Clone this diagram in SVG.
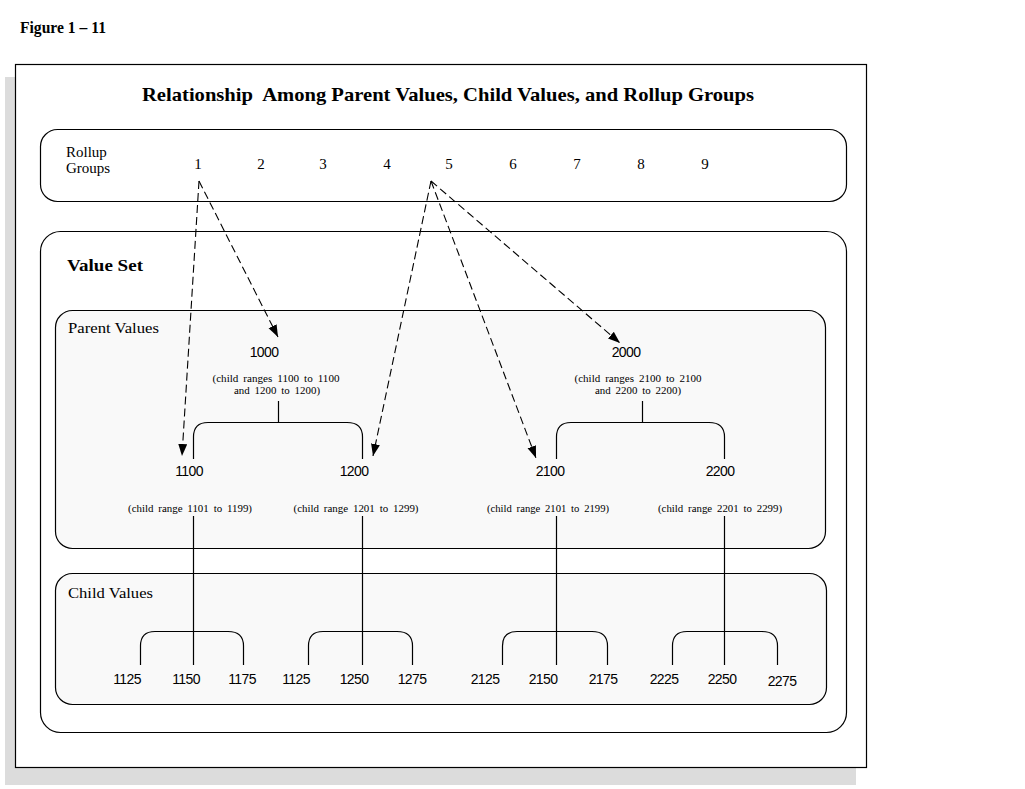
<svg xmlns="http://www.w3.org/2000/svg" width="1025" height="789" viewBox="0 0 1025 789">
<style>
.frame{fill:#fff;stroke:#000;stroke-width:1.2}
.box{fill:#fff;stroke:#000;stroke-width:1.2}
.inner{fill:#f9f9f9;stroke:#000;stroke-width:1.2}
.ln{fill:none;stroke:#000;stroke-width:1.2}
.dash{fill:none;stroke:#000;stroke-width:1.1;stroke-dasharray:8 4}
.lbl{font-family:"Liberation Serif",serif;font-size:15px;fill:#000}
.num{font-family:"Liberation Sans",sans-serif;font-size:14px;fill:#000;letter-spacing:-0.6px;text-anchor:middle}
.rg{font-family:"Liberation Serif",serif;font-size:15px;fill:#000;text-anchor:middle}
.sm{font-family:"Liberation Serif",serif;font-size:10px;fill:#000;text-anchor:middle;word-spacing:2px}
</style>
<defs>
<marker id="ah" markerWidth="14" markerHeight="10" refX="12" refY="4.5" orient="auto" markerUnits="userSpaceOnUse">
<path d="M0,0 L12,4.5 L0,9 z" fill="#000"/>
</marker>
</defs>
<text x="20" y="33" font-family="Liberation Serif,serif" font-weight="bold" font-size="16" textLength="86" lengthAdjust="spacingAndGlyphs">Figure 1 – 11</text>
<rect x="5" y="77" width="851" height="708" fill="#dcdcdc"/>
<rect class="frame" x="15.5" y="64.5" width="851" height="703"/>
<text x="448" y="101" text-anchor="middle" font-family="Liberation Serif,serif" font-weight="bold" font-size="19" textLength="612" lengthAdjust="spacingAndGlyphs">Relationship&#160; Among Parent Values, Child Values, and Rollup Groups</text>

<g id="rollup">
<rect class="box" x="40.5" y="129.5" width="806" height="72" rx="17" ry="17"/>
<text class="lbl" x="66" y="157">Rollup</text>
<text class="lbl" x="66" y="173">Groups</text>
<text class="rg" x="198" y="169">1</text>
<text class="rg" x="261" y="169">2</text>
<text class="rg" x="323" y="169">3</text>
<text class="rg" x="387" y="169">4</text>
<text class="rg" x="449" y="169">5</text>
<text class="rg" x="513" y="169">6</text>
<text class="rg" x="577" y="169">7</text>
<text class="rg" x="641" y="169">8</text>
<text class="rg" x="705" y="169">9</text>
</g>

<g id="valueset">
<rect class="box" x="40.5" y="231.5" width="806" height="501" rx="20" ry="20"/>
<text x="67" y="271" font-family="Liberation Serif,serif" font-weight="bold" font-size="17" textLength="76" lengthAdjust="spacingAndGlyphs">Value Set</text>
</g>

<g id="parentvalues">
<rect class="inner" x="55.5" y="310.5" width="770" height="238" rx="17" ry="17"/>
<text class="lbl" x="68" y="333" textLength="91" lengthAdjust="spacingAndGlyphs">Parent Values</text>
</g>

<g id="childvalues">
<rect class="inner" x="55.5" y="573.5" width="771" height="131" rx="17" ry="17"/>
<text class="lbl" x="68" y="598" textLength="85" lengthAdjust="spacingAndGlyphs">Child Values</text>
</g>

<g id="p1000">
<text class="num" x="264" y="357">1000</text>
<text class="sm" x="276" y="382" textLength="127" lengthAdjust="spacingAndGlyphs">(child ranges 1100 to 1100</text>
<text class="sm" x="277" y="394" textLength="86" lengthAdjust="spacingAndGlyphs">and 1200 to 1200)</text>
</g>
<g id="p2000">
<text class="num" x="626" y="357">2000</text>
<text class="sm" x="638" y="382" textLength="127" lengthAdjust="spacingAndGlyphs">(child ranges 2100 to 2100</text>
<text class="sm" x="638" y="394" textLength="86" lengthAdjust="spacingAndGlyphs">and 2200 to 2200)</text>
</g>
<g id="p1100">
<text class="num" x="189" y="476">1100</text>
<text class="sm" x="190" y="512" textLength="124" lengthAdjust="spacingAndGlyphs">(child range 1101 to 1199)</text>
</g>
<g id="p1200">
<text class="num" x="354" y="476">1200</text>
<text class="sm" x="356" y="512" textLength="125" lengthAdjust="spacingAndGlyphs">(child range 1201 to 1299)</text>
</g>
<g id="p2100">
<text class="num" x="550" y="476">2100</text>
<text class="sm" x="548" y="512" textLength="122" lengthAdjust="spacingAndGlyphs">(child range 2101 to 2199)</text>
</g>
<g id="p2200">
<text class="num" x="720" y="476">2200</text>
<text class="sm" x="720" y="512" textLength="124" lengthAdjust="spacingAndGlyphs">(child range 2201 to 2299)</text>
</g>

<g id="children">
<text class="num" x="127" y="684">1125</text>
<text class="num" x="186" y="684">1150</text>
<text class="num" x="242" y="684">1175</text>
<text class="num" x="296" y="684">1125</text>
<text class="num" x="354" y="684">1250</text>
<text class="num" x="412" y="684">1275</text>
<text class="num" x="485" y="684">2125</text>
<text class="num" x="543" y="684">2150</text>
<text class="num" x="603" y="684">2175</text>
<text class="num" x="664" y="684">2225</text>
<text class="num" x="722" y="684">2250</text>
<text class="num" x="782" y="686">2275</text>
</g>

<g id="connectors">
<path class="ln" d="M278.5,401 V422.5 M193.5,459 V437 Q193.5,422.5 208,422.5 H347 Q362.5,422.5 362.5,437 V459"/>
<path class="ln" d="M642.5,401 V422.5 M556.5,459 V437 Q556.5,422.5 571,422.5 H709 Q724.5,422.5 724.5,437 V459"/>
<path class="ln" d="M193.5,516 V665 M140.5,665 V646 Q140.5,631.5 155,631.5 H228 Q243.5,631.5 243.5,646 V665"/>
<path class="ln" d="M362.5,516 V665 M308.5,665 V646 Q308.5,631.5 323,631.5 H397 Q412.5,631.5 412.5,646 V665"/>
<path class="ln" d="M556.5,516 V665 M502.5,665 V646 Q502.5,631.5 517,631.5 H592 Q607.5,631.5 607.5,646 V665"/>
<path class="ln" d="M724.5,516 V665 M672.5,665 V646 Q672.5,631.5 687,631.5 H762 Q777.5,631.5 777.5,646 V665"/>
<path class="dash" d="M199,181 L182,456" marker-end="url(#ah)"/>
<path class="dash" d="M199,181 L278,337" marker-end="url(#ah)"/>
<path class="dash" d="M431,181 L373,456" marker-end="url(#ah)"/>
<path class="dash" d="M431,181 L536,458" marker-end="url(#ah)"/>
<path class="dash" d="M431,181 L620,343" marker-end="url(#ah)"/>
</g>
</svg>
